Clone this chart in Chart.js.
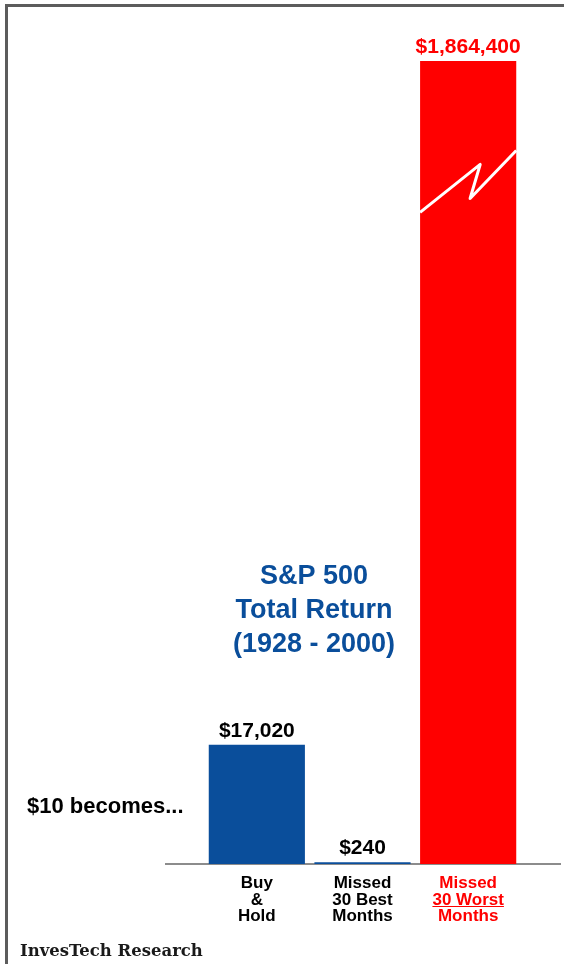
<!DOCTYPE html>
<html lang="en">
<head>
    <meta charset="UTF-8">
    <title>S&amp;P 500 Total Return 1928 - 2000</title>
    <script src="https://cdn.jsdelivr.net/npm/chart.js"></script>
    <style>
        body {
            margin: 0;
            background: #ffffff;
        }
        #wrap {
            position: relative;
            width: 564px;
            height: 964px;
        }
    </style>
</head>
<body>
<div id="wrap"><canvas id="chart" width="564" height="964"></canvas></div>

<script>
    // data
    const categories = [['Buy', '&', 'Hold'], ['Missed', '30 Best', 'Months'], ['Missed', '30 Worst', 'Months']];
    const values = [17020, 240, 1864400];
    const valueLabels = ['$17,020', '$240', '$1,864,400'];
    const titleLines = ['S&P 500', 'Total Return', '(1928 - 2000)'];

    const BLUE = '#0a4e9b';
    const RED = '#ff0000';
    const barColors = [BLUE, BLUE, RED];
    const textColors = ['#000000', '#000000', RED];

    // y scale with a break: values up to breakValue use the lower part of the axis,
    // the rest is squeezed into the top part (the zig-zag marks it on the bar)
    class BrokenScale extends Chart.LinearScale {
        getPixelForValue(value) {
            const bv = this.options.breakValue, br = this.options.breakRatio;
            const h = this.bottom - this.top;
            let f;
            if (value <= bv) f = (value - this.min) / (bv - this.min) * br;
            else f = br + (value - bv) / (this.max - bv) * (1 - br);
            return this.bottom - f * h;
        }
        getValueForPixel(pixel) {
            const bv = this.options.breakValue, br = this.options.breakRatio;
            const f = (this.bottom - pixel) / (this.bottom - this.top);
            if (f <= br) return this.min + f / br * (bv - this.min);
            return bv + (f - br) / (1 - br) * (this.max - bv);
        }
    }
    BrokenScale.id = 'broken';
    BrokenScale.defaults = Chart.LinearScale.defaults;
    Chart.register(BrokenScale);

    const decorations = {
        id: 'decorations',
        beforeDatasetsDraw(chart) {
            const ctx = chart.ctx;
            const y0 = chart.scales.y.getPixelForValue(0);
            ctx.save();
            // frame (top + left only)
            ctx.fillStyle = '#5c5c5c';
            ctx.fillRect(5, 4, 559, 3);
            ctx.fillRect(5, 4, 3, 960);
            // baseline
            ctx.fillStyle = '#8c8c8c';
            ctx.fillRect(165, y0 - 1, 396, 2);
            ctx.restore();
        },
        afterDatasetsDraw(chart) {
            const ctx = chart.ctx;
            const meta = chart.getDatasetMeta(0);
            const yScale = chart.scales.y;
            const y0 = yScale.getPixelForValue(0);
            ctx.save();

            // break mark on the tall bar
            const big = meta.data[2];
            const left = big.x - big.width / 2;
            const w = big.width;
            const yb = yScale.getPixelForValue(yScale.options.breakValue);
            ctx.strokeStyle = '#ffffff';
            ctx.lineWidth = 3;
            ctx.lineJoin = 'round';
            ctx.beginPath();
            ctx.moveTo(left, yb + 31);
            ctx.lineTo(left + w * 0.625, yb - 17);
            ctx.lineTo(left + w * 0.52, yb + 17);
            ctx.lineTo(left + w, yb - 31);
            ctx.stroke();

            // value labels
            ctx.textAlign = 'center';
            ctx.textBaseline = 'alphabetic';
            ctx.font = 'bold 21px "Liberation Sans", Arial, sans-serif';
            meta.data.forEach((bar, i) => {
                ctx.fillStyle = textColors[i];
                ctx.fillText(valueLabels[i], bar.x, bar.y - 8);
            });

            // category labels under the bars
            ctx.font = 'bold 17px "Liberation Sans", Arial, sans-serif';
            meta.data.forEach((bar, i) => {
                ctx.fillStyle = textColors[i];
                categories[i].forEach((line, j) => {
                    const ty = y0 + 24 + j * 16.5;
                    ctx.fillText(line, bar.x, ty);
                    if (i === 2 && j === 1) {
                        const tw = ctx.measureText(line).width;
                        ctx.fillRect(bar.x - tw / 2, ty + 1.5, tw, 1);
                    }
                });
            });

            // title
            ctx.fillStyle = BLUE;
            ctx.font = 'bold 27px "Liberation Sans", Arial, sans-serif';
            titleLines.forEach((line, j) => ctx.fillText(line, 314, 584 + j * 34));

            // left note
            ctx.fillStyle = '#000000';
            ctx.textAlign = 'left';
            ctx.font = 'bold 22px "Liberation Sans", Arial, sans-serif';
            ctx.fillText('$10 becomes...', 27, 813);

            // source
            ctx.font = 'bold 16px "DejaVu Serif", serif';
            const sw = ctx.measureText('InvesTech Research').width;
            const size = 16 * 183 / sw;
            ctx.font = 'bold ' + size.toFixed(2) + 'px "DejaVu Serif", serif';
            ctx.fillStyle = '#1a1a1a';
            ctx.fillText('InvesTech Research', 20, 956);

            ctx.restore();
        }
    };

    new Chart(document.getElementById('chart'), {
        type: 'bar',
        data: {
            labels: categories.map(c => c.join(' ')),
            datasets: [{
                data: values,
                backgroundColor: barColors,
                borderWidth: 0,
                barPercentage: 0.91,
                categoryPercentage: 1
            }]
        },
        options: {
            responsive: false,
            animation: false,
            layout: {
                padding: { left: 204, right: 43, top: 61, bottom: 100 }
            },
            plugins: {
                legend: { display: false },
                tooltip: { enabled: false }
            },
            scales: {
                x: { display: false },
                y: {
                    type: 'broken',
                    display: false,
                    min: 0,
                    max: 1864400,
                    bounds: 'data',
                    breakValue: 97500,
                    breakRatio: 0.85
                }
            }
        },
        plugins: [decorations]
    });
</script>
</body>
</html>
